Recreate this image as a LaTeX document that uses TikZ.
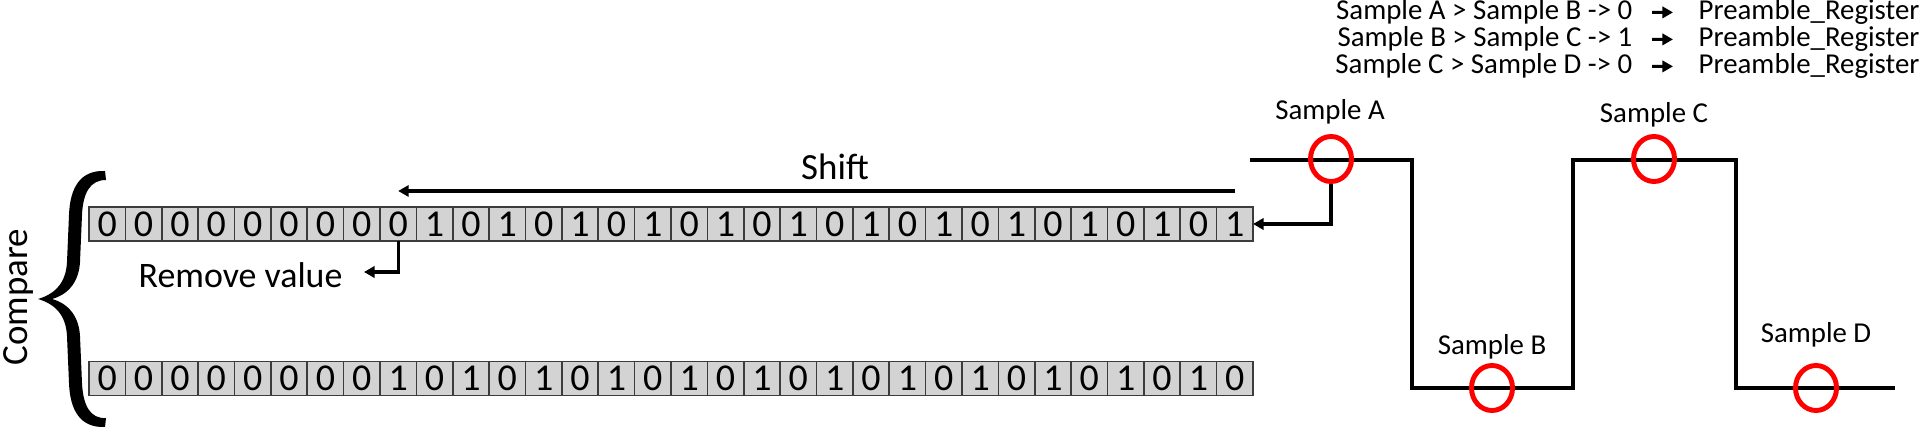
\documentclass[tikz,border=0pt]{standalone}
\usepackage{fontspec}
\setmainfont{Carlito}
\usetikzlibrary{arrows.meta,positioning,shapes.geometric,calc}
\definecolor{pReg}{RGB}{211,211,211}
\definecolor{pEdge}{RGB}{60,60,60}
\definecolor{pSmp}{RGB}{255,0,0}

\begin{document}
\begin{tikzpicture}[
	x=0.01cm, y=-0.01cm,
	bit/.style={
		draw=pEdge, fill=pReg, line width=0.45pt, inner sep=0pt, outer sep=0pt,
		minimum width=0.36375cm, minimum height=0.34cm,
		font=\fontsize{10.8}{12}\selectfont
	},
	smp/.style={
		ellipse, draw=pSmp, line width=1.4pt, inner sep=0pt,
		minimum width=0.41cm, minimum height=0.45cm
	},
	lbl/.style={inner sep=0pt, anchor=base, font=\fontsize{8.2}{10}\selectfont},
	big/.style={inner sep=0pt, font=\fontsize{10.5}{12}\selectfont},
	arr/.style={-{Triangle[length=3pt,width=3.2pt]}, line width=0.9pt}
	]
	\useasboundingbox (0,0) rectangle (1921,434);

	% registers
	\foreach \d [count=\i] in {0,0,0,0,0,0,0,0,0,1,0,1,0,1,0,1,0,1,0,1,0,1,0,1,0,1,0,1,0,1,0,1}
	\node[bit] (t\i) at ({89+(\i-0.5)*36.375},224) {\d};
	\foreach \d [count=\i] in {0,0,0,0,0,0,0,0,1,0,1,0,1,0,1,0,1,0,1,0,1,0,1,0,1,0,1,0,1,0,1,0}
	\node[bit] (b\i) at ({89+(\i-0.5)*36.375},378.5) {\d};

	% compare brace
	\node[big, rotate=90] (cmp) at (18,297) {Compare};
	\fill (105,171) .. controls (80,170) and (70,188) .. (69,215) -- (67,262)
		.. controls (66,283) and (55,294) .. (38,299)
		.. controls (55,304) and (66,315) .. (67,336) -- (69,383)
		.. controls (70,410) and (80,428) .. (105,427) -- (106,418)
		.. controls (90,419) and (83,405) .. (82,383) -- (80,336)
		.. controls (79,318) and (70,304) .. (52,299)
		.. controls (70,294) and (79,280) .. (80,262) -- (82,215)
		.. controls (83,193) and (90,180) .. (106,180) -- cycle;

	% shift and removed bit
	\node[big, anchor=base] (shf) at (835,180) {Shift};
	\coordinate (shs) at (1235,191);
	\draw[arr] (shs) -- (shs -| t9);
	\node[big, anchor=base west, font=\fontsize{10.2}{12}\selectfont] (rmv) at (138,288) {Remove value};
	\coordinate (rmt) at (364,272);
	\draw[arr] (t9.south) |- (rmt);

	% waveform
	\draw[line width=0.9pt] (1250,160) -- (1412,160) -- (1412,388) -- (1573,388)
		-- (1573,160) -- (1736,160) -- (1736,388) -- (1895,388);
	\node[smp] (sA) at (1331,159) {};
	\node[smp] (sB) at (1492,388) {};
	\node[smp] (sC) at (1654,159) {};
	\node[smp] (sD) at (1816,388) {};
	\draw[arr] (sA.south) |- (t32.east);
	\node[lbl] (nA) at (1330,120) {Sample A};
	\node[lbl] (nB) at (1492,355) {Sample B};
	\node[lbl] (nC) at (1654,123) {Sample C};
	\node[lbl] (nD) at (1816,343) {Sample D};

	% comparison rules
	\foreach \i/\sl/\sr/\v/\y in {1/A/B/0/20, 2/B/C/1/47, 3/C/D/0/74} {
		\node[lbl, anchor=base east] (q\i) at (1633,\y) {Sample \sl{} > Sample \sr{} -> \v};
		\node[lbl, anchor=base west] (p\i) at (1698,\y) {Preamble\_Register};
		\draw[arr, shorten <=0.19cm, shorten >=0.25cm] (q\i) -- (p\i);
	}
\end{tikzpicture}
\end{document}
